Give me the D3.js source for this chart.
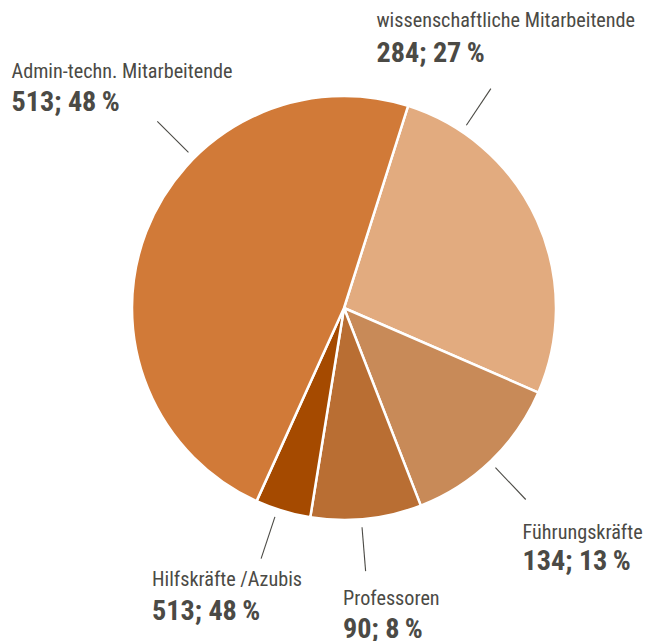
<!DOCTYPE html>
<html>
<head>
<meta charset="utf-8">
<script src="https://cdn.jsdelivr.net/npm/d3@7"></script>
<style>
  html, body { margin: 0; padding: 0; background: #fff; }
  svg { display: block; }
  text { font-family: "Liberation Sans Narrow", "Roboto Condensed", "Arial Narrow", sans-serif; fill: #4b4a45; }
</style>
</head>
<body>
<script>
// Data
const categories = ["wissenschaftliche Mitarbeitende", "Führungskräfte", "Professoren", "Hilfskräfte /Azubis", "Admin-techn. Mitarbeitende"];
const values = [284, 134, 90, 45, 513];
const valueLabels = ["284; 27\u2009%", "134; 13\u2009%", "90; 8\u2009%", "513; 48\u2009%", "513; 48\u2009%"];
const colors = ["#E2AB7F", "#C88A58", "#B96E33", "#A54A00", "#D17A38"];

// Layout (presentation only)
const W = 652, H = 641;
const cx = 344, cy = 308, R = 212;
const startDeg = 17.6;
const leaderDeg = [33.8, 136.5, 175.3, 198.3, 315];
const titlePos = [[376.5, 26.7], [522.5, 539.3], [343, 605], [152, 586], [11.5, 78.3]];
const valueBase = [61.7, 570, 637.5, 620, 111];

const svg = d3.select("body").append("svg").attr("width", W).attr("height", H);
const g = svg.append("g").attr("transform", `translate(${cx},${cy})`);

const pie = d3.pie().sort(null).value(d => d)
  .startAngle(startDeg * Math.PI / 180)
  .endAngle(startDeg * Math.PI / 180 + 2 * Math.PI);
const arc = d3.arc().innerRadius(0).outerRadius(R);

g.selectAll("path.slice").data(pie(values)).join("path")
  .attr("class", "slice")
  .attr("d", arc)
  .attr("fill", (d, i) => colors[i])
  .attr("stroke", "#fff")
  .attr("stroke-width", 2.5)
  .attr("stroke-linejoin", "round");

// leader lines
g.selectAll("line.leader").data(leaderDeg).join("line")
  .attr("class", "leader")
  .each(function(a) {
    const r = a * Math.PI / 180;
    const p1 = d3.pointRadial(r, 220), p2 = d3.pointRadial(r, 264);
    d3.select(this).attr("x1", p1[0]).attr("y1", p1[1]).attr("x2", p2[0]).attr("y2", p2[1]);
  })
  .attr("stroke", "#4b4a45").attr("stroke-width", 1.1);

// labels
const lab = svg.selectAll("g.lab").data(categories).join("g").attr("class", "lab")
  .attr("transform", (d, i) => `translate(${titlePos[i][0]},0)`);
lab.append("text").text(d => d).attr("y", (d, i) => titlePos[i][1]).attr("font-size", 20.2);
lab.append("text").text((d, i) => valueLabels[i]).attr("y", (d, i) => valueBase[i])
  .attr("font-size", 28.2).attr("font-weight", "bold");
</script>
</body>
</html>
